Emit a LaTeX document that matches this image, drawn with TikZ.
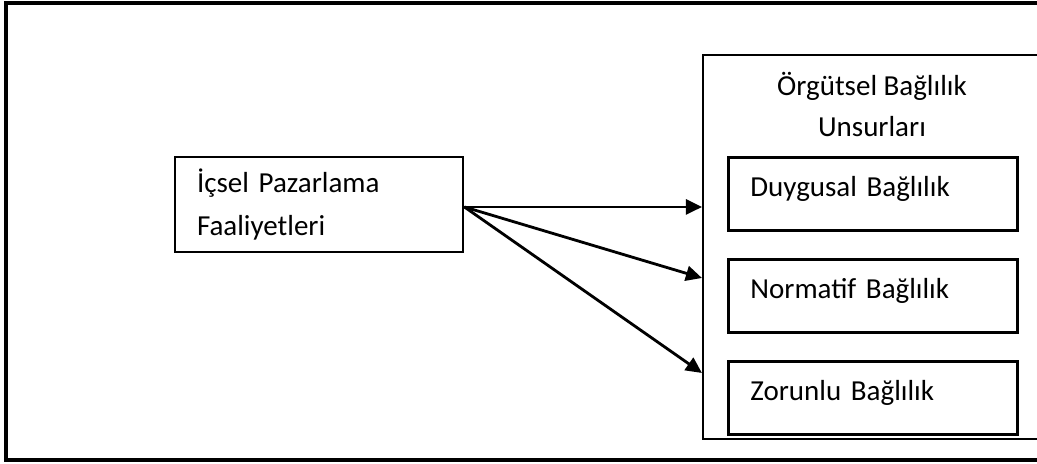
\documentclass[tikz,border=0pt]{standalone}
\usepackage{fontspec}
\setmainfont{Carlito}
\usepackage{tikz}
\usetikzlibrary{positioning}
\usetikzlibrary{arrows.meta}
\tikzset{box/.style={draw, rectangle, line width=1.6pt, inner xsep=0.44cm, align=left}}
\tikzset{partbox/.style={box, text width=4.9cm, inner ysep=0.3cm, text height=0.48cm, text depth=0.38cm, anchor=north west}}

\begin{document}
\begin{tikzpicture}[font=\fontsize{16.5}{24.4}\selectfont, >={Triangle[length=0.32cm,width=0.3cm]}]
\useasboundingbox (0,0) rectangle (20.74,9.28);
\draw[line width=2pt] (0.12,0.08) rectangle (21.6,9.22);
\node[box, text width=4.88cm, minimum height=1.9cm] (ipf) at (6.38,5.19) {İçsel Pazarlama\\Faaliyetleri};
\node[draw, line width=1.2pt, minimum width=7.14cm, minimum height=7.68cm] (oub) at (17.63,4.34) {};
\node[align=center, inner sep=0pt, anchor=north, font=\fontsize{16.5}{23}\selectfont] (oubt) at (17.44,7.84) {Örgütsel Bağlılık\\Unsurları};
\node[partbox] (duy) at (14.54,6.16) {Duygusal Bağlılık};
\node[partbox] (nor) at (14.54,4.12) {Normatif Bağlılık};
\node[partbox] (zor) at (14.54,2.08) {Zorunlu Bağlılık};
% arrows
\coordinate (src) at ([yshift=-0.05cm]ipf.east);
\draw[->, line width=1.6pt] (src) -- (src -| oub.west);
\draw[->, line width=1.6pt] (src) -- ([yshift=-1.42cm]src -| oub.west);
\draw[->, line width=1.6pt] (src) -- ([yshift=-3.32cm]src -| oub.west);
\end{tikzpicture}
\end{document}
